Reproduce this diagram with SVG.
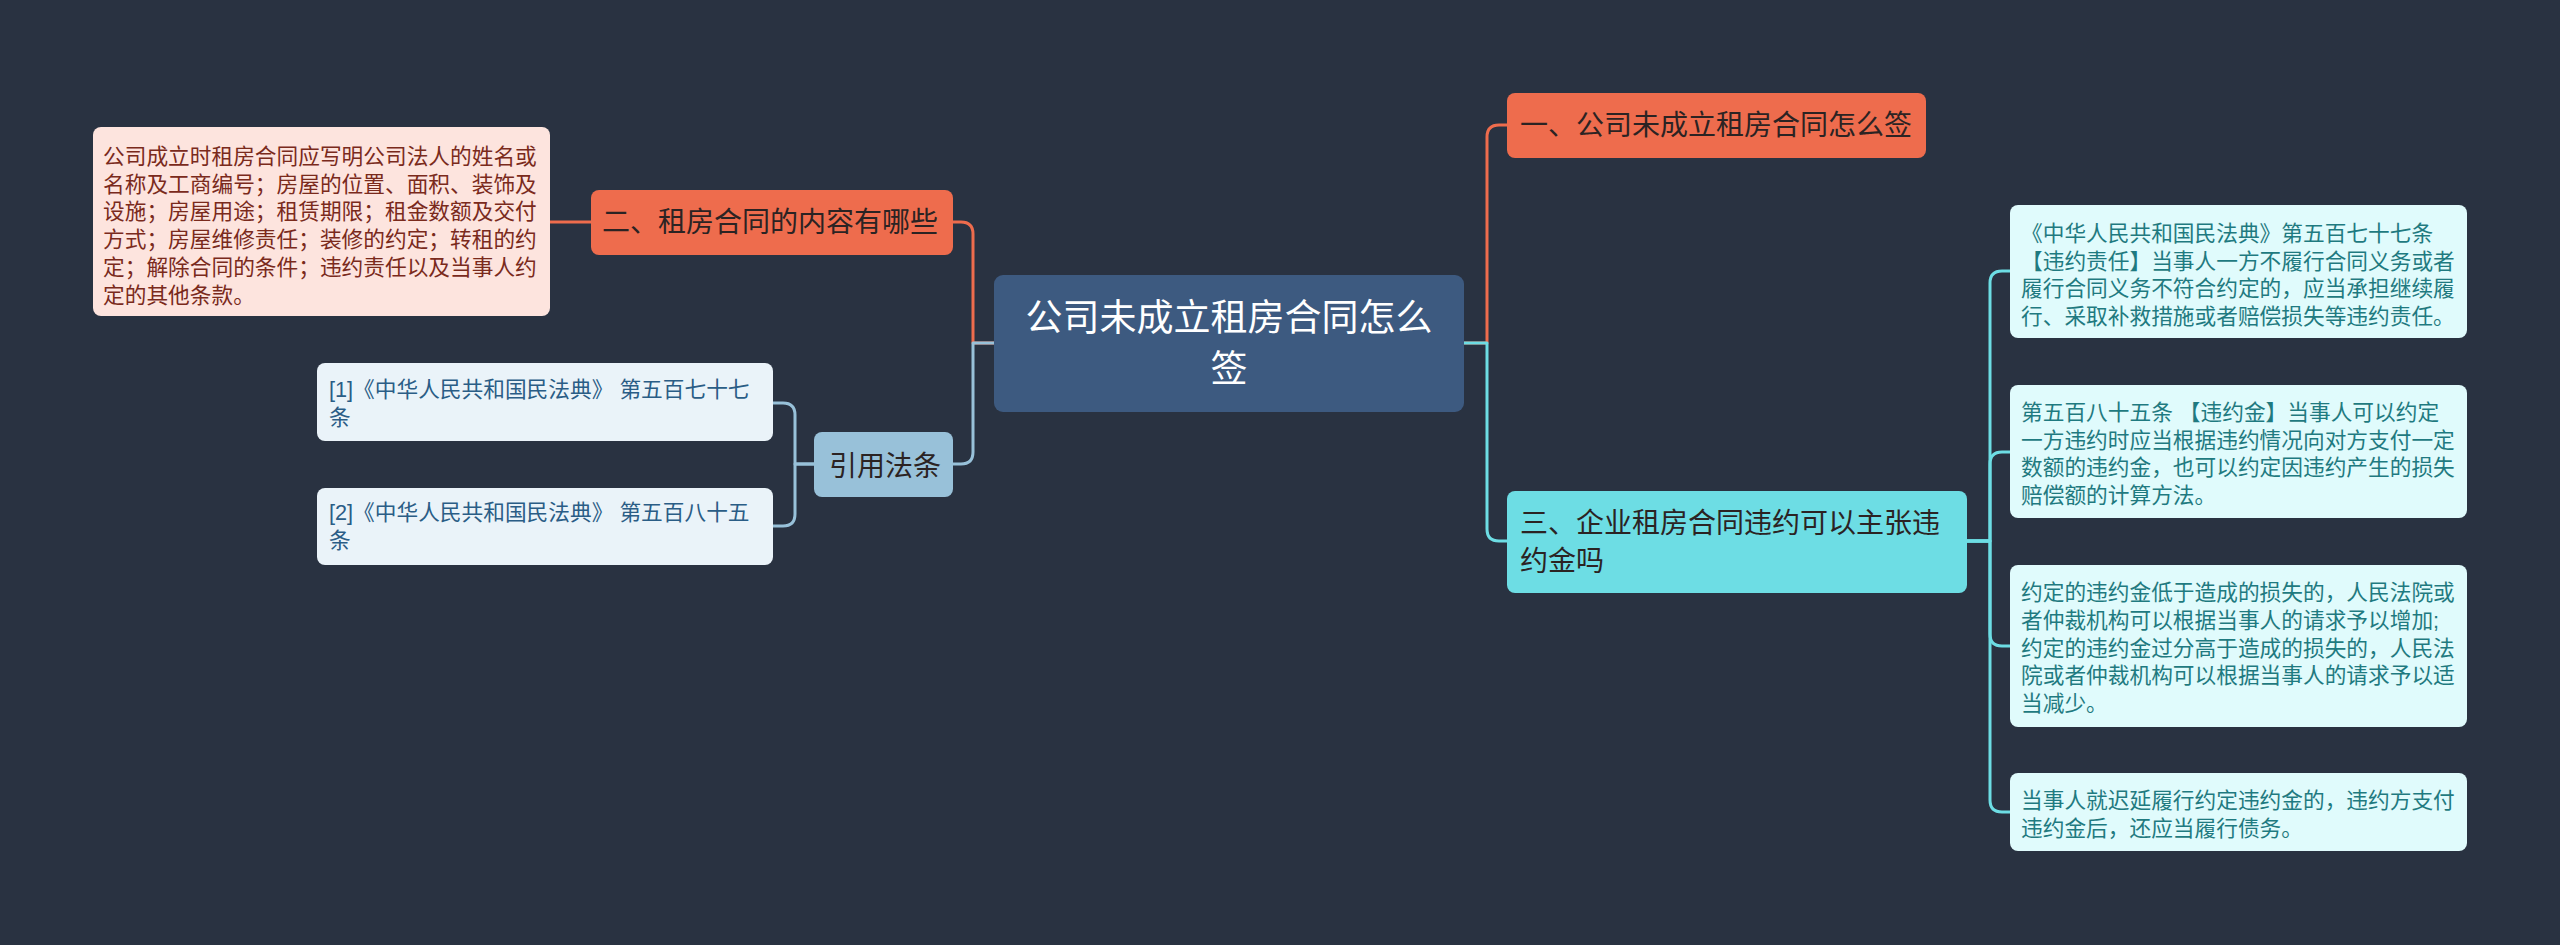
<svg xmlns="http://www.w3.org/2000/svg" width="2560" height="945" viewBox="0 0 2560 945">
<style>
text{font-family:"Liberation Sans","Noto Sans CJK SC",sans-serif;}
.c{fill:none;stroke-width:3;stroke-linecap:round;stroke-linejoin:round}
.or{stroke:#ee6c4d}.cy{stroke:#6ddde4}.lb{stroke:#98c1d9}
.leaf{font-size:21.7px}
.main{font-size:28px;fill:#2b2323}
</style>
<rect width="2560" height="945" fill="#293241"/>
<g id="connectors">
<path class="c or" d="M1464,343 H1487 V137 Q1487,125 1499,125 H1507"/>
<path class="c cy" d="M1464,343 H1487 V529 Q1487,541 1499,541 H1507"/>
<path class="c or" d="M994,343 H973 V234 Q973,222 961,222 H953"/>
<path class="c lb" d="M994,343 H973 V452 Q973,464 961,464 H953"/>
<path class="c or" d="M591,222 H550"/>
<path class="c lb" d="M814,464 H795 V415 Q795,403 783,403 H773"/>
<path class="c lb" d="M814,464 H795 V514 Q795,526 783,526 H773"/>
<path class="c cy" d="M1967,541 H1990 V283 Q1990,271 2002,271 H2010"/>
<path class="c cy" d="M1967,541 H1990 V464 Q1990,452 2002,452 H2010"/>
<path class="c cy" d="M1967,541 H1990 V634 Q1990,646 2002,646 H2010"/>
<path class="c cy" d="M1967,541 H1990 V800 Q1990,812 2002,812 H2010"/>
</g>
<g id="central">
<rect x="994" y="275" width="470" height="137" rx="9" fill="#3d5a80"/>
<text x="1229" y="330.8" font-size="37" fill="#ffffff" text-anchor="middle">公司未成立租房合同怎么</text>
<text x="1229" y="381.6" font-size="37" fill="#ffffff" text-anchor="middle">签</text>
</g>
<g id="node1">
<rect x="1507" y="93" width="419" height="65" rx="8" fill="#ee6c4d"/>
<text class="main" x="1520" y="135">一、公司未成立租房合同怎么签</text>
</g>
<g id="node2">
<rect x="591" y="190" width="362" height="65" rx="8" fill="#ee6c4d"/>
<text class="main" x="602" y="231.7">二、租房合同的内容有哪些</text>
</g>
<g id="node3">
<rect x="1507" y="491" width="460" height="102" rx="8" fill="#6ddde4"/>
<text class="main" x="1520" y="533.3">三、企业租房合同违约可以主张违</text>
<text class="main" x="1520" y="571">约金吗</text>
</g>
<g id="node4">
<rect x="814" y="432" width="139" height="65" rx="8" fill="#98c1d9"/>
<text class="main" x="829" y="475.7">引用法条</text>
</g>
<g id="leaf-content">
<rect x="93" y="127" width="457" height="189" rx="8" fill="#fde4de"/>
<g class="leaf" fill="#7a2a1c">
<text x="103" y="163.8">公司成立时租房合同应写明公司法人的姓名或</text>
<text x="103" y="191.6">名称及工商编号；房屋的位置、面积、装饰及</text>
<text x="103" y="219.4">设施；房屋用途；租赁期限；租金数额及交付</text>
<text x="103" y="247.2">方式；房屋维修责任；装修的约定；转租的约</text>
<text x="103" y="275">定；解除合同的条件；违约责任以及当事人约</text>
<text x="103" y="302.8">定的其他条款。</text>
</g>
</g>
<g id="cite1">
<rect x="317" y="363" width="456" height="78" rx="8" fill="#eaf3f9"/>
<g class="leaf" fill="#2a5d86">
<text x="329" y="396.8">[1]《中华人民共和国民法典》 第五百七十七</text>
<text x="329" y="424.5">条</text>
</g>
</g>
<g id="cite2">
<rect x="317" y="488" width="456" height="77" rx="8" fill="#eaf3f9"/>
<g class="leaf" fill="#2a5d86">
<text x="329" y="520.4">[2]《中华人民共和国民法典》 第五百八十五</text>
<text x="329" y="548.1">条</text>
</g>
</g>
<g id="leaf1">
<rect x="2010" y="205" width="457" height="133" rx="8" fill="#e0fbfc"/>
<g class="leaf" fill="#1f7a80">
<text x="2021" y="240.8">《中华人民共和国民法典》第五百七十七条</text>
<text x="2021" y="268.5">【违约责任】当事人一方不履行合同义务或者</text>
<text x="2021" y="296.2">履行合同义务不符合约定的，应当承担继续履</text>
<text x="2021" y="323.9">行、采取补救措施或者赔偿损失等违约责任。</text>
</g>
</g>
<g id="leaf2">
<rect x="2010" y="385" width="457" height="133" rx="8" fill="#e0fbfc"/>
<g class="leaf" fill="#1f7a80">
<text x="2021" y="419.8">第五百八十五条 【违约金】当事人可以约定</text>
<text x="2021" y="447.5">一方违约时应当根据违约情况向对方支付一定</text>
<text x="2021" y="475.2">数额的违约金，也可以约定因违约产生的损失</text>
<text x="2021" y="502.9">赔偿额的计算方法。</text>
</g>
</g>
<g id="leaf3">
<rect x="2010" y="565" width="457" height="162" rx="8" fill="#e0fbfc"/>
<g class="leaf" fill="#1f7a80">
<text x="2021" y="600.3">约定的违约金低于造成的损失的，人民法院或</text>
<text x="2021" y="628">者仲裁机构可以根据当事人的请求予以增加;</text>
<text x="2021" y="655.7">约定的违约金过分高于造成的损失的，人民法</text>
<text x="2021" y="683.4">院或者仲裁机构可以根据当事人的请求予以适</text>
<text x="2021" y="711.1">当减少。</text>
</g>
</g>
<g id="leaf4">
<rect x="2010" y="773" width="457" height="78" rx="8" fill="#e0fbfc"/>
<g class="leaf" fill="#1f7a80">
<text x="2021" y="807.8">当事人就迟延履行约定违约金的，违约方支付</text>
<text x="2021" y="835.5">违约金后，还应当履行债务。</text>
</g>
</g>
</svg>
